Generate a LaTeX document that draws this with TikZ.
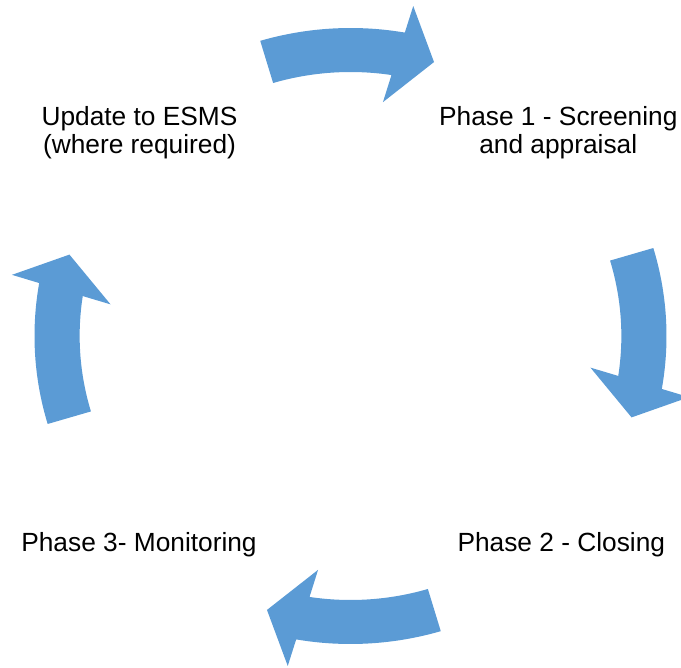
\documentclass[tikz,border=0pt]{standalone}
\usepackage{fontspec}
\setmainfont{Liberation Sans}
\definecolor{arrowblue}{RGB}{91,155,213}
\tikzset{
  cyclearrow/.style={fill=arrowblue, draw=none},
  lbl/.style={font=\fontsize{26.3}{28}\selectfont, align=center, anchor=base, inner sep=0pt, text=black}
}
\begin{document}
\begin{tikzpicture}[x=1pt,y=-1pt]
\useasboundingbox (0,0) rectangle (681,668);
\begin{scope}[shift={(350.5pt,-336pt)}, x=1.026pt, y=1pt]
\foreach \r in {0,90,180,270} {
  \fill[cyclearrow] ({106.6-\r}:308) arc[start angle=106.6-\r, end angle=80.1-\r, radius=308]
     -- ({79.5-\r}:335.6) -- ({73.45-\r}:285.8) -- ({82.3-\r}:236) -- ({81.3-\r}:264)
     arc[start angle=81.3-\r, end angle=106.6-\r, radius=264] -- cycle;
}
\end{scope}
\node[lbl] (upd) at (139.5,154) {Update to ESMS\\(where required)};
\node[lbl] (p1) at (558.3,154) {Phase 1 - Screening\\and appraisal};
\node[lbl] (p3) at (139,551) {Phase 3- Monitoring};
\node[lbl] (p2) at (561.3,551) {Phase 2 - Closing};
\end{tikzpicture}
\end{document}
